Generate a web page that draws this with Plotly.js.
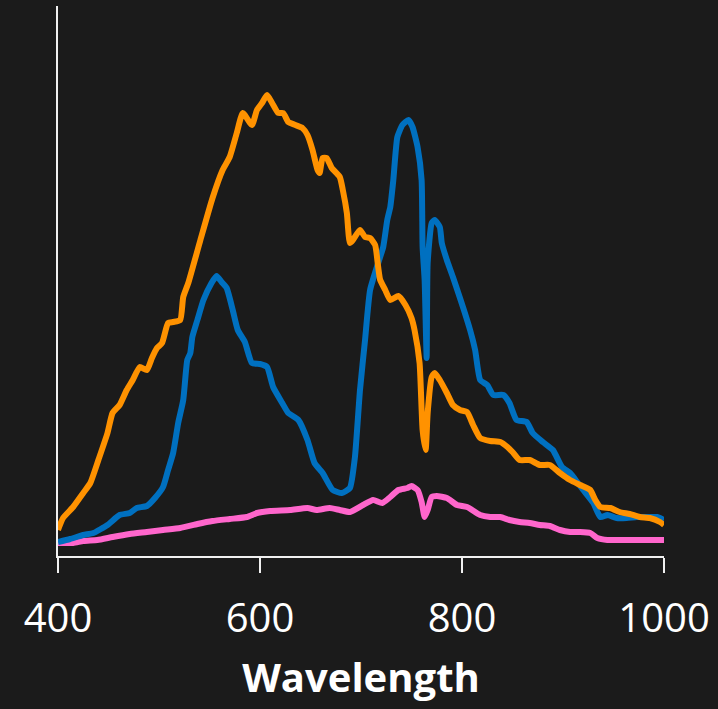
<!DOCTYPE html>
<html>
<head>
<meta charset="utf-8">
<script src="https://cdn.plot.ly/plotly-3.0.1.min.js"></script>
<style>html,body{margin:0;padding:0;background:#1b1b1b;}#chart{width:718px;height:709px;}</style>
</head>
<body>
<div id="chart"></div>
<script>
// Orange series
const orangeWl = [400,405,415,425,432,440,449,454,461,468,474,481,488,493,498,503,509,514,521,524,529,541,553,563,570,577,583,592,597,602,607,612,618,623,628,635,642,647,652,657,659,662,666,671,679,682,686,689,692,699,704,709,714,717,719,724,729,737,744,750,753,758,761,764,766,770,773,778,785,791,798,805,811,818,828,838,845,850,857,867,877,887,897,907,917,927,932,937,947,956,966,976,986,996,1000];
const orangeVal = [26,38,49,63,73,96,123,143,151,166,176,189,186,198,208,213,233,234,236,259,273,316,358,386,399,423,443,431,446,453,461,453,443,443,434,431,428,421,406,386,383,398,398,388,379,366,343,313,316,326,319,318,311,289,276,266,256,260,251,238,226,193,126,106,143,179,183,176,163,151,146,144,131,118,115,114,109,104,96,96,91,91,83,76,71,66,56,49,48,44,42,39,38,34,31];
// Blue series
const blueWl = [400,412,425,435,449,461,471,478,488,496,504,509,514,519,524,528,531,533,538,544,552,557,562,567,573,578,585,592,600,607,613,622,628,638,647,654,662,672,681,689,694,699,704,709,717,722,726,729,732,736,741,747,751,756,760,761,763,765,766,770,773,778,780,785,791,808,813,818,825,831,841,847,854,864,870,880,890,899,907,914,920,930,937,944,953,963,973,983,993,1000];
const blueVal = [14,17,21,23,31,41,43,48,50,58,69,86,103,133,156,196,203,219,236,256,273,280,274,268,246,226,214,193,192,189,169,153,143,136,116,93,83,66,63,68,99,166,216,266,293,309,336,349,376,419,431,436,429,409,376,309,276,198,293,333,336,329,313,296,279,226,206,176,171,161,161,153,136,134,123,114,106,89,83,74,66,53,39,41,38,38,39,39,39,36];
// Pink series
const pinkWl = [400,415,425,439,454,471,488,504,521,538,553,570,587,597,610,630,647,656,669,679,689,702,712,721,729,737,746,750,756,760,763,766,770,775,785,795,805,818,828,838,847,857,867,877,887,897,907,917,927,934,944,956,983,1000];
const pinkVal = [13,13,15,16,19,22,24,26,28,32,35,37,39,43,45,46,48,46,48,46,44,51,56,53,59,66,68,70,66,54,39,46,59,60,58,51,49,41,39,39,36,34,33,31,30,26,24,24,23,18,16,16,16,16];
// Axis ticks
const xTicks = [400,600,800,1000];
const xTickText = ["400","600","800","1000"];

const mk = (x, y, color) => ({x: x, y: y, type: 'scatter', mode: 'lines',
  line: {color: color, width: 6, shape: 'spline', smoothing: 0.5}, hoverinfo: 'skip', showlegend: false});

const data = [
  mk(pinkWl, pinkVal, '#ff66cc'),
  mk(blueWl, blueVal, '#0070c0'),
  mk(orangeWl, orangeVal, '#ff9200')
];

const layout = {
  width: 718, height: 709,
  margin: {l: 58, r: 54, t: 6, b: 153, pad: 0},
  paper_bgcolor: '#1b1b1b', plot_bgcolor: '#1b1b1b',
  font: {family: '"Open Sans", sans-serif', color: '#ffffff'},
  showlegend: false,
  xaxis: {
    range: [400, 1000], tickvals: xTicks, ticktext: xTickText,
    showgrid: false, zeroline: false,
    showline: true, linecolor: '#f0f0f0', linewidth: 2,
    ticks: 'outside', ticklen: 15, tickwidth: 2, tickcolor: '#f0f0f0',
    ticklabelstandoff: 11,
    tickfont: {size: 40, color: '#ffffff', family: '"Open Sans", sans-serif'},
    title: {text: '<b>Wavelength</b>', font: {size: 40, color: '#ffffff', family: '"Open Sans", sans-serif'}, standoff: 21}
  },
  yaxis: {
    range: [0, 550], showgrid: false, zeroline: false,
    showline: true, linecolor: '#f0f0f0', linewidth: 2,
    ticks: '', showticklabels: false
  }
};

Plotly.newPlot('chart', data, layout, {displayModeBar: false, staticPlot: true});
</script>
</body>
</html>
